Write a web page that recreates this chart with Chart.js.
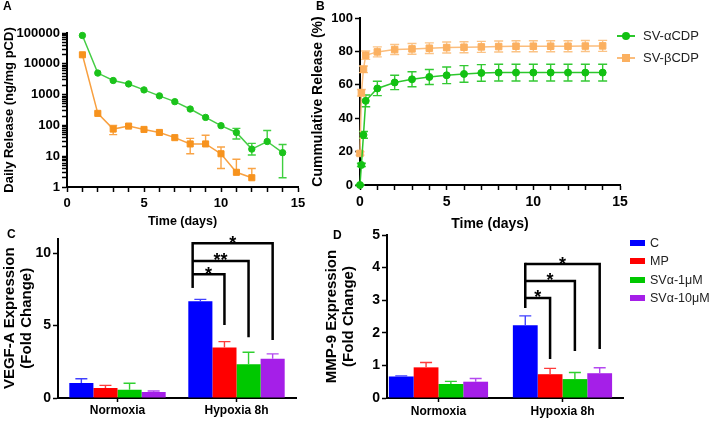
<!DOCTYPE html>
<html>
<head>
<meta charset="utf-8">
<script src="https://cdn.jsdelivr.net/npm/chart.js@4.4.0/dist/chart.umd.min.js"></script>
<style>
  html, body { margin: 0; padding: 0; background: #fff; }
  body { width: 709px; height: 421px; position: relative; overflow: hidden; font-family: 'Liberation Sans', Arial, sans-serif; }
  canvas { position: absolute; left: 0; top: 0; }
  .tag { position: absolute; font-weight: bold; font-size: 12px; line-height: 12px; color: #000; }
  .leg { position: absolute; font-size: 13px; line-height: 16px; color: #222; white-space: nowrap; }
  .leg .line { position: absolute; left: 0; top: 7px; width: 18px; height: 2px; }
  .leg .mark { position: absolute; left: 5px; top: 4px; width: 8px; height: 8px; }
  .leg .box { position: absolute; left: 0; top: 5px; width: 15px; height: 6px; }
</style>
</head>
<body>
<canvas id="chartA" width="709" height="421"></canvas>
<canvas id="chartB" width="709" height="421"></canvas>
<canvas id="chartC" width="709" height="421"></canvas>
<canvas id="chartD" width="709" height="421"></canvas>
<div class="tag" style="left:3px;top:0px">A</div>
<div class="tag" style="left:316px;top:0px">B</div>
<div class="tag" style="left:7px;top:228px">C</div>
<div class="tag" style="left:333px;top:229px">D</div>
<div id="legB"></div>
<div id="legD"></div>
<script>
// ---- panel A: daily release (log axis) ----
const daysA = [1, 2, 3, 4, 5, 6, 7, 8, 9, 10, 11, 12, 13, 14];
const alphaDaily = [83000, 5000, 2870, 2220, 1420, 910, 590, 340, 182, 98, 59, 17, 30, 13];
const alphaDailyHi = [null, null, null, null, null, null, null, null, null, null, 80, 26, 68, 24];
const alphaDailyLo = [null, null, null, null, null, null, null, null, null, null, 36, 11, null, 2];
const betaDaily = [19600, 246, 76, 95, 74, 59, 40, 25, 25, 12, 3, 2];
const betaDailyHi = [null, null, 100, null, null, null, null, 38, 48, 20, 8, 4];
const betaDailyLo = [null, null, 50, null, null, null, null, 12, null, 4, null, null];
const logLabels = [1, 10, 100, 1000, 10000, 100000];

// ---- panel B: cumulative release ----
const timesB = [0, 0.08, 0.2, 0.33, 1, 2, 3, 4, 5, 6, 7, 8, 9, 10, 11, 12, 13, 14];
const alphaCum = [0, 12, 30, 50.4, 57.8, 61.4, 63.3, 64.7, 65.7, 66.5, 67.1, 67.3, 67.3, 67.3, 67.3, 67.3, 67.3, 67.3];
const alphaCumSd = [0, 1, 2, 3.5, 4.3, 4.3, 4.5, 4.5, 5, 5, 5, 5, 5, 5, 5, 5, 5, 5];
const betaCum = [18.9, 55.2, 69.3, 77.7, 79.7, 81.1, 81.5, 81.9, 82.3, 82.5, 82.7, 82.9, 83.1, 83.1, 83.1, 83.1, 83.2, 83.3];
const betaCumSd = [1, 2, 2, 2.5, 3, 3, 3.2, 3.2, 3.3, 3.3, 3.3, 3.3, 3.3, 3.3, 3.3, 3.3, 3.3, 3.3];
const seriesNames = ['SV-αCDP', 'SV-βCDP'];

// ---- panels C / D: expression bars ----
const groups = ['Normoxia', 'Hypoxia 8h'];
const treatments = ['C', 'MP', 'SVα-1μM', 'SVα-10μM'];
const vegfMeans = [[1.03, 6.68], [0.69, 3.48], [0.57, 2.33], [0.41, 2.70]];
const vegfSd = [[0.30, 0.12], [0.18, 0.41], [0.45, 0.83], [0.07, 0.34]];
const mmpMeans = [[0.66, 2.23], [0.94, 0.73], [0.43, 0.58], [0.50, 0.76]];
const mmpSd = [[0.02, 0.29], [0.15, 0.18], [0.08, 0.20], [0.10, 0.17]];
const vegfSigStart = 7.59;
const vegfSigLevels = [8.53, 9.45, 10.67];
const vegfSigEnds = [5.03, 4.19, 4.0];
const vegfSigLabels = ['*', '**', '*'];
const mmpSigStart = 2.76;
const mmpSigLevels = [3.07, 3.59, 4.11];
const mmpSigEnds = [1.2, 1.44, 1.5];
const mmpSigLabels = ['*', '*', '*'];

const barColors = ['#0000ff', '#ff0000', '#00c800', '#a51fe8'];
const barErrColors = ['#4040ff', '#ff3a3a', '#30d030', '#b448f0'];

Chart.defaults.font.family = "'Liberation Sans', Arial, sans-serif";
Chart.defaults.font.weight = 'bold';
Chart.defaults.color = '#000';
Chart.defaults.animation = false;
Chart.defaults.responsive = false;
Chart.defaults.plugins.legend.display = false;
Chart.defaults.plugins.tooltip.enabled = false;

const W = 709, H = 421;
// padding so that the plot area lands at x0..x1 / y0..y1 on the page
function pad(x0, y0, x1, y1, yW, xH) {
  return { left: x0 - yW, top: y0, right: W - x1, bottom: H - y1 - xH };
}

const errorBars = {
  id: 'errorBars',
  draw(chart) {
    const ctx = chart.ctx, y = chart.scales.y;
    chart.data.datasets.forEach((ds, di) => {
      if (!ds.errHi) return;
      const meta = chart.getDatasetMeta(di);
      ctx.save();
      ctx.strokeStyle = ds.errColor;
      ctx.lineWidth = 1.4;
      meta.data.forEach((pt, i) => {
        const half = ds.capWidth / 2;
        [ds.errHi[i], ds.errLo ? ds.errLo[i] : null].forEach(v => {
          if (v == null || (y.type === 'logarithmic' && v <= 0)) return;
          const py = y.getPixelForValue(v);
          ctx.beginPath();
          ctx.moveTo(pt.x, pt.y);
          ctx.lineTo(pt.x, py);
          ctx.moveTo(pt.x - half, py);
          ctx.lineTo(pt.x + half, py);
          ctx.stroke();
        });
      });
      ctx.restore();
    });
  },
  beforeDatasetsDraw(chart) { if (chart.config.type !== 'bar') this.draw(chart); },
  afterDatasetsDraw(chart) { if (chart.config.type === 'bar') this.draw(chart); }
};

function brackets(start, levels, ends, labels, shift) {
  return {
    id: 'brackets',
    afterDatasetsDraw(chart) {
      const ctx = chart.ctx, y = chart.scales.y;
      const base = chart.getDatasetMeta(0).data[1];
      const bx = base.x + shift * base.width;
      ctx.save();
      ctx.strokeStyle = '#000';
      ctx.fillStyle = '#000';
      ctx.lineWidth = 2.5;
      ctx.lineCap = 'butt';
      ctx.lineJoin = 'miter';
      ctx.beginPath();
      ctx.moveTo(bx, y.getPixelForValue(start));
      ctx.lineTo(bx, y.getPixelForValue(Math.max(...levels)) - 1.25);
      ctx.stroke();
      ctx.font = "bold 18px 'Liberation Sans', Arial, sans-serif";
      ctx.textAlign = 'center';
      ctx.textBaseline = 'alphabetic';
      levels.forEach((lv, k) => {
        const ex = chart.getDatasetMeta(k + 1).data[1].x;
        const ly = y.getPixelForValue(lv);
        ctx.beginPath();
        ctx.moveTo(bx, ly);
        ctx.lineTo(ex, ly);
        ctx.lineTo(ex, y.getPixelForValue(ends[k]));
        ctx.stroke();
        ctx.fillText(labels[k], (bx + ex) / 2, ly + 5.5);
      });
      ctx.restore();
    }
  };
}

function axisBase(tickSize) {
  return {
    border: { color: '#000', width: 2 },
    grid: { drawOnChartArea: false, tickLength: 5, tickColor: '#000', tickWidth: 1.5, offset: false },
    ticks: { color: '#000', font: { size: tickSize, weight: 'bold' }, padding: 2, autoSkip: false, maxRotation: 0 }
  };
}

function daysAxis(xH, titleSize, tickSize) {
  const a = axisBase(tickSize);
  return Object.assign(a, {
    type: 'linear', min: 0, max: 15,
    afterFit: s => { s.height = xH; },
    ticks: Object.assign(a.ticks, { stepSize: 1, padding: 4, callback: v => (v % 5 === 0 ? String(v) : '') }),
    title: { display: true, text: 'Time (days)', color: '#000', font: { size: titleSize, weight: 'bold' }, padding: { top: 0, bottom: 0 } }
  });
}

// ---- A ----
const yA = axisBase(13);
new Chart(document.getElementById('chartA'), {
  type: 'line',
  data: {
    datasets: [
      {
        label: seriesNames[0],
        data: daysA.map((d, i) => ({ x: d, y: alphaDaily[i] })),
        errHi: alphaDailyHi, errLo: alphaDailyLo, errColor: '#3fcf3f', capWidth: 8,
        borderColor: '#45cd45', borderWidth: 1.5, tension: 0,
        pointStyle: 'circle', pointRadius: 3.2, pointBorderWidth: 1,
        pointBackgroundColor: '#1bc31b', pointBorderColor: '#1bc31b', clip: false
      },
      {
        label: seriesNames[1],
        data: daysA.slice(0, betaDaily.length).map((d, i) => ({ x: d, y: betaDaily[i] })),
        errHi: betaDailyHi, errLo: betaDailyLo, errColor: '#f9a446', capWidth: 8,
        borderColor: '#f8a040', borderWidth: 1.5, tension: 0,
        pointStyle: 'rect', pointRadius: 4.3, pointBorderWidth: 1,
        pointBackgroundColor: '#f7931e', pointBorderColor: '#f7931e', clip: false
      }
    ]
  },
  options: {
    layout: { padding: pad(67, 33, 298, 187, 67, 42) },
    scales: {
      x: daysAxis(42, 12.5, 13),
      y: Object.assign(yA, {
        type: 'logarithmic', min: 1, max: 100000,
        afterFit: s => { s.width = 67; },
        afterBuildTicks: s => {
          const t = [];
          for (let e = 0; e < 5; e++) for (let m = 1; m < 10; m++) t.push({ value: m * Math.pow(10, e) });
          t.push({ value: 100000 });
          s.ticks = t;
        },
        ticks: Object.assign(yA.ticks, { callback: v => (logLabels.includes(v) ? String(v) : '') }),
        title: { display: true, text: 'Daily Release (ng/mg pCD)', color: '#000', font: { size: 13, weight: 'bold' }, padding: { top: 2, bottom: 0 } }
      })
    }
  },
  plugins: [errorBars]
});

// ---- B ----
const yB = axisBase(13);
new Chart(document.getElementById('chartB'), {
  type: 'line',
  data: {
    datasets: [
      {
        label: seriesNames[0],
        data: timesB.map((t, i) => ({ x: t, y: alphaCum[i] })),
        errHi: alphaCum.map((v, i) => v + alphaCumSd[i]),
        errLo: alphaCum.map((v, i) => v - alphaCumSd[i]),
        errColor: '#33c933', capWidth: 9,
        borderColor: '#2cc72c', borderWidth: 1.5, tension: 0,
        pointStyle: 'circle', pointRadius: 3.5, pointBorderWidth: 1,
        pointBackgroundColor: '#12c112', pointBorderColor: '#12c112', clip: false
      },
      {
        label: seriesNames[1],
        data: timesB.map((t, i) => ({ x: t, y: betaCum[i] })),
        errHi: betaCum.map((v, i) => v + betaCumSd[i]),
        errLo: betaCum.map((v, i) => v - betaCumSd[i]),
        errColor: '#fbc386', capWidth: 9,
        borderColor: '#fbbd7c', borderWidth: 1.5, tension: 0,
        pointStyle: 'rect', pointRadius: 4.6, pointBorderWidth: 1,
        pointBackgroundColor: '#fbb060', pointBorderColor: '#fbb060', clip: false
      }
    ]
  },
  options: {
    layout: { padding: pad(360, 18, 620, 185, 52, 48) },
    scales: {
      x: daysAxis(48, 14, 14),
      y: Object.assign(yB, {
        type: 'linear', min: 0, max: 100,
        afterFit: s => { s.width = 52; },
        ticks: Object.assign(yB.ticks, { stepSize: 20 }),
        title: { display: true, text: 'Cummulative Release (%)', color: '#000', font: { size: 14, weight: 'bold' }, padding: { top: 2, bottom: 0 } }
      })
    }
  },
  plugins: [errorBars]
});

// ---- C / D bars ----
function barSets(means, sds, asPoints) {
  return treatments.map((name, k) => ({
    label: name,
    data: asPoints ? means[k].map((v, g) => ({ x: g, y: v })) : means[k],
    errHi: means[k].map((v, g) => v + sds[k][g]),
    errColor: barErrColors[k], capWidth: 12,
    backgroundColor: barColors[k], borderWidth: 0
  }));
}

function groupAxis(extra) {
  const a = axisBase(12);
  a.grid.tickLength = 4;
  a.ticks.padding = 1;
  return Object.assign(a, { afterFit: s => { s.height = 23; } }, extra);
}

function exprAxis(max, step, yW, lines) {
  const a = axisBase(14);
  return Object.assign(a, {
    type: 'linear', min: 0, max,
    afterFit: s => { s.width = yW; },
    ticks: Object.assign(a.ticks, { stepSize: step, includeBounds: false }),
    title: { display: true, text: lines, color: '#000', font: { size: 15, weight: 'bold', lineHeight: 17 / 15 }, padding: { top: 0, bottom: 0 } }
  });
}

new Chart(document.getElementById('chartC'), {
  type: 'bar',
  data: { labels: groups, datasets: barSets(vegfMeans, vegfSd, false) },
  options: {
    categoryPercentage: 0.81, barPercentage: 1,
    layout: { padding: pad(58, 238.5, 296, 398, 56.5, 23) },
    scales: {
      x: groupAxis({ type: 'category', offset: true }),
      y: exprAxis(11, 5, 56.5, ['VEGF-A Expression', '(Fold Change)'])
    }
  },
  plugins: [errorBars, brackets(vegfSigStart, vegfSigLevels, vegfSigEnds, vegfSigLabels, -0.32)]
});

new Chart(document.getElementById('chartD'), {
  type: 'bar',
  data: { datasets: barSets(mmpMeans, mmpSd, true) },
  options: {
    categoryPercentage: 0.8, barPercentage: 1,
    layout: { padding: pad(387, 235, 623, 398, 63.5, 23) },
    scales: {
      x: groupAxis({
        type: 'linear', offset: false, min: -0.415, max: 1.488,
        ticks: { color: '#000', font: { size: 12, weight: 'bold' }, padding: 2, autoSkip: false, maxRotation: 0,
                 stepSize: 1, includeBounds: false, callback: v => groups[v] || '' }
      }),
      y: exprAxis(5, 1, 63.5, ['MMP-9 Expression', '(Fold Change)'])
    }
  },
  plugins: [errorBars, brackets(mmpSigStart, mmpSigLevels, mmpSigEnds, mmpSigLabels, 0)]
});

// ---- legends ----
const legB = document.getElementById('legB');
const legBColors = [['#2cc72c', '#12c112', '50%'], ['#fbbd7c', '#fbb060', '0']];
seriesNames.forEach((name, i) => {
  const d = document.createElement('div');
  d.className = 'leg';
  d.style.left = '617px';
  d.style.top = (28 + i * 22) + 'px';
  d.innerHTML = '<span class="line" style="background:' + legBColors[i][0] + '"></span>' +
    '<span class="mark" style="background:' + legBColors[i][1] + ';border-radius:' + legBColors[i][2] + '"></span>' +
    '<span style="position:absolute;left:26px;top:0">' + name + '</span>';
  legB.appendChild(d);
});
const legD = document.getElementById('legD');
treatments.forEach((name, i) => {
  const d = document.createElement('div');
  d.className = 'leg';
  d.style.left = '630px';
  d.style.top = (235 + i * 18.4) + 'px';
  d.style.fontSize = '12.5px';
  d.innerHTML = '<span class="box" style="background:' + barColors[i] + '"></span>' +
    '<span style="position:absolute;left:20px;top:0">' + name + '</span>';
  legD.appendChild(d);
});
</script>
</body>
</html>
